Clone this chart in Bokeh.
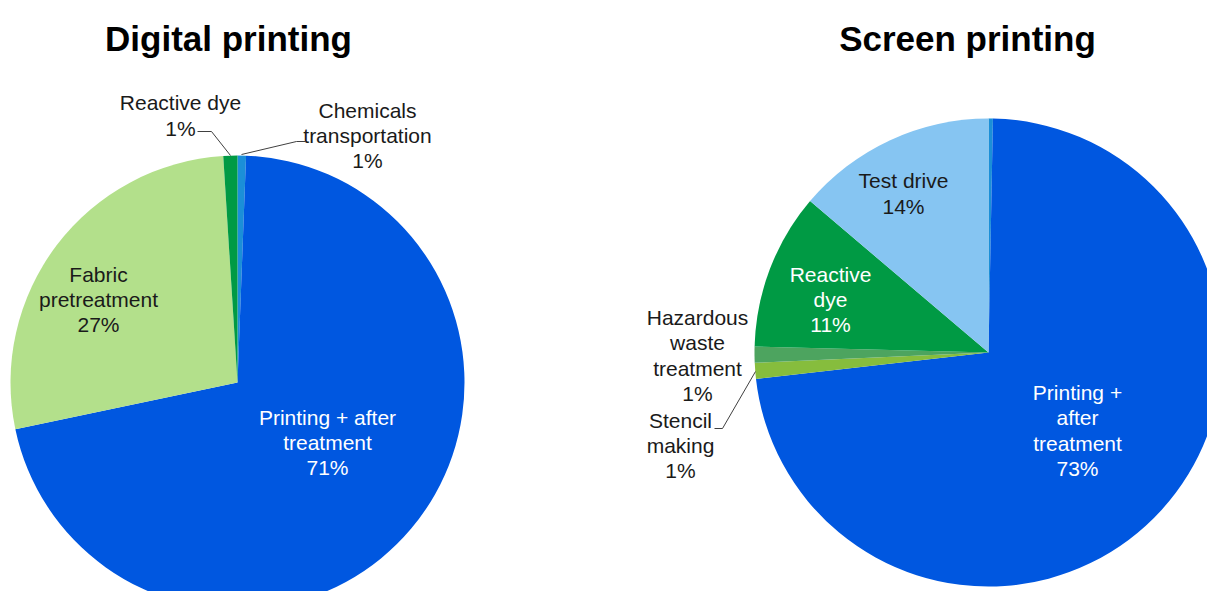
import numpy as np
from bokeh.plotting import figure
from bokeh.models import Range1d
from bokeh.core.properties import value
from bokeh.embed import file_html
from bokeh.resources import INLINE

# ---------------- data ----------------
digital_categories = ["Chemicals transportation", "Printing + after treatment",
                      "Fabric pretreatment", "Reactive dye"]
digital_labels = ["Chemicals\ntransportation", "Printing + after\ntreatment",
                  "Fabric\npretreatment", "Reactive dye"]
digital_values = [0.6, 71.1, 27.3, 1.0]

screen_categories = ["Other", "Printing + after treatment", "Stencil making",
                     "Hazardous waste treatment", "Reactive dye", "Test drive"]
screen_labels = ["", "Printing +\nafter\ntreatment", "Stencil\nmaking",
                 "Hazardous\nwaste\ntreatment", "Reactive\ndye", "Test drive"]
screen_values = [0.3, 72.9, 1.1, 1.1, 10.8, 13.8]

titles = ["Digital printing", "Screen printing"]

# ---------------- styles / layout ----------------
digital_colors = ["#1B8FD8", "#0057E0", "#B3E08B", "#009A44"]
screen_colors = ["#1B8FD8", "#0057E0", "#86BD3D", "#4DA45F", "#009A44", "#86C5F2"]
digital_text_colors = ["#1a1a1a", "white", "#1a1a1a", "#1a1a1a"]
screen_text_colors = ["#1a1a1a", "white", "#1a1a1a", "#1a1a1a", "white", "#1a1a1a"]

W, H = 1207, 591


def py(y):  # screen y (downwards) -> data y
    return H - y


digital_center = (237, 382)
digital_radius = 227
screen_center = (988, 352)
screen_radius = 234

# label block centers in screen pixels
digital_label_pos = [(367, 135), (327, 442), (98, 299), (180, 115)]
screen_label_pos = [None, (1077, 430), (680, 445), (697, 355), (830, 299), (903, 193)]
title_pos = [(228, 38), (967, 38)]

leaders = [
    [(197, 131), (211, 131), (230, 155)],
    [(241, 154), (296, 141), (305, 141)],
    [(714, 428), (722, 428), (755, 371)],
]

FONT = value("Liberation Sans")

p = figure(width=W, height=H, output_backend="svg", toolbar_location=None,
           x_range=Range1d(0, W), y_range=Range1d(0, H),
           min_border=0, min_border_left=0, min_border_right=0,
           min_border_top=0, min_border_bottom=0)
p.axis.visible = False
p.grid.visible = False
p.outline_line_color = None
p.background_fill_color = "white"
p.border_fill_color = "white"


def draw_pie(center, radius, vals, colors):
    vals = np.asarray(vals, dtype=float)
    frac = vals / vals.sum()
    c1 = np.cumsum(frac) * 2 * np.pi
    c0 = c1 - frac * 2 * np.pi
    start = np.pi / 2 - c1
    end = np.pi / 2 - c0
    p.wedge(x=center[0], y=py(center[1]), radius=radius,
            start_angle=start, end_angle=end, fill_color=colors,
            line_color=None, direction="anticlock")


draw_pie(digital_center, digital_radius, digital_values, digital_colors)
draw_pie(screen_center, screen_radius, screen_values, screen_colors)


def draw_labels(labels, vals, pos, tcolors):
    xs, ys, txt, cols = [], [], [], []
    for lab, v, ps, c in zip(labels, vals, pos, tcolors):
        if not lab or ps is None:
            continue
        xs.append(ps[0])
        ys.append(py(ps[1]))
        txt.append(f"{lab}\n{int(round(v))}%")
        cols.append(c)
    p.text(x=xs, y=ys, text=txt, text_color=cols, text_font=FONT,
           text_font_size="21px", text_align="center", text_baseline="middle",
           text_line_height=1.1)


draw_labels(digital_labels, digital_values, digital_label_pos, digital_text_colors)
draw_labels(screen_labels, screen_values, screen_label_pos, screen_text_colors)

for seg in leaders:
    p.line(x=[a for a, b in seg], y=[py(b) for a, b in seg],
           line_color="#404040", line_width=1)

p.text(x=[t[0] for t in title_pos], y=[py(t[1]) for t in title_pos], text=titles,
       text_font=FONT, text_font_style="bold", text_font_size="35px",
       text_align="center", text_baseline="alphabetic", text_color="black")

open("out.html", "w").write(file_html(p, INLINE))
